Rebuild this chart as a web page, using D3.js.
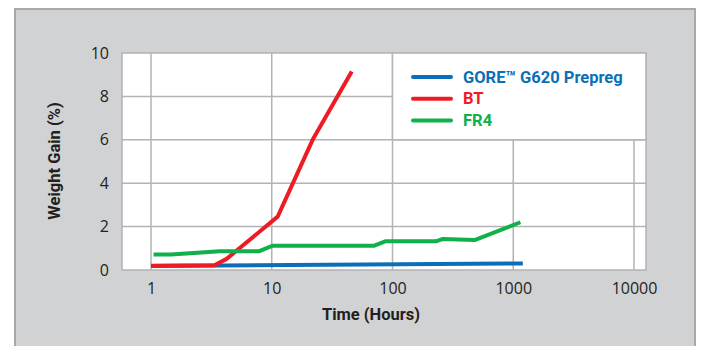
<!DOCTYPE html>
<html>
<head>
<meta charset="utf-8">
<script src="https://cdn.jsdelivr.net/npm/d3@7"></script>
<style>
  body { margin: 0; background: #fff; }
  svg { display: block; font-family: Roboto, "Open Sans", sans-serif; }
</style>
</head>
<body>
<svg id="chart" width="701" height="346"></svg>
<script>
// DATA
const xTicks = [1, 10, 100, 1000, 10000];
const yTicks = [0, 2, 4, 6, 8, 10];

const goreHours = [1, 1200];
const goreGain = [0.18, 0.3];

const btHours = [1, 3.35, 4.2, 5.4, 11.2, 21.8, 46];
const btGain = [0.2, 0.22, 0.5, 1.0, 2.46, 6.0, 9.15];

const fr4Hours = [1.05, 1.46, 3.7, 7.8, 10.2, 70.8, 87, 229, 261, 478, 1146];
const fr4Gain = [0.71, 0.71, 0.86, 0.86, 1.12, 1.12, 1.32, 1.32, 1.43, 1.38, 2.2];

const seriesNames = ['GORE\u2122 G620 Prepreg', 'BT', 'FR4'];
const seriesColors = ['#0a6fb8', '#ed1c24', '#10b04a'];

const series = [
  { name: seriesNames[0], color: seriesColors[0], values: goreHours.map((h, i) => ({ h, g: goreGain[i] })) },
  { name: seriesNames[1], color: seriesColors[1], values: btHours.map((h, i) => ({ h, g: btGain[i] })) },
  { name: seriesNames[2], color: seriesColors[2], values: fr4Hours.map((h, i) => ({ h, g: fr4Gain[i] })) }
];

//SETUP
const svg = d3.select('#chart');
const plot = { left: 122, right: 646, top: 53, bottom: 270 };

const x = d3.scaleLog().domain([1, 10000]).range([151, 634]);
const y = d3.scaleLinear().domain([0, 10]).range([plot.bottom, plot.top]);

// grey panel
svg.append('rect')
  .attr('x', 15).attr('y', 9)
  .attr('width', 680).attr('height', 345)
  .attr('fill', '#d1d2d4')
  .attr('stroke', '#a8a9ac')
  .attr('stroke-width', 2);

// plot area
svg.append('rect')
  .attr('x', plot.left).attr('y', plot.top)
  .attr('width', plot.right - plot.left).attr('height', plot.bottom - plot.top)
  .attr('fill', '#fff')
  .attr('stroke', '#b3b3b6')
  .attr('stroke-width', 1.5);

//GRID
const grid = svg.append('g').attr('stroke', '#b3b3b6').attr('stroke-width', 1.5);
grid.selectAll('.vgrid')
  .data(xTicks)
  .enter()
  .append('line')
  .attr('x1', (d) => x(d)).attr('x2', (d) => x(d))
  .attr('y1', plot.top).attr('y2', plot.bottom);
grid.selectAll('.hgrid')
  .data(yTicks.filter((d) => d > 0 && d < 10))
  .enter()
  .append('line')
  .attr('x1', plot.left).attr('x2', plot.right)
  .attr('y1', (d) => y(d)).attr('y2', (d) => y(d));

//AXES
const xAxis = svg.append('g')
  .attr('transform', `translate(0,${plot.bottom})`)
  .call(d3.axisBottom(x).tickValues(xTicks).tickFormat(d3.format('d')).tickSize(0).tickPadding(13));
const yAxis = svg.append('g')
  .attr('transform', `translate(${plot.left},0)`)
  .call(d3.axisLeft(y).tickValues(yTicks).tickSize(0).tickPadding(13));
[xAxis, yAxis].forEach((a) => {
  a.select('.domain').remove();
  a.selectAll('text').attr('font-size', '16px').attr('fill', '#231f20')
    .attr('font-family', '"Open Sans", sans-serif');
});

svg.append('text')
  .attr('x', 371).attr('y', 320)
  .attr('text-anchor', 'middle')
  .attr('font-size', '16.5px').attr('font-weight', 'bold')
  .attr('fill', '#231f20')
  .text('Time (Hours)');

svg.append('text')
  .attr('transform', 'translate(60,161) rotate(-90)')
  .attr('text-anchor', 'middle')
  .attr('font-size', '16.5px').attr('font-weight', 'bold')
  .attr('fill', '#231f20')
  .text('Weight Gain (%)');

//LINES
const line = d3.line().x((d) => x(d.h)).y((d) => y(d.g));
svg.append('g').selectAll('.line')
  .data(series)
  .enter()
  .append('path')
  .attr('fill', 'none')
  .attr('stroke', (d) => d.color)
  .attr('stroke-width', 4)
  .attr('stroke-linejoin', 'round')
  .attr('d', (d) => line(d.values));

//LEGEND
svg.append('rect')
  .attr('x', x(100)).attr('y', plot.top)
  .attr('width', plot.right - x(100)).attr('height', y(6) - plot.top)
  .attr('fill', '#fff')
  .attr('stroke', '#b3b3b6')
  .attr('stroke-width', 1.5);

const legend = svg.append('g').selectAll('.legend')
  .data(series)
  .enter()
  .append('g')
  .attr('transform', (d, i) => `translate(413,${77 + i * 21.7})`);
legend.append('line')
  .attr('x1', 0).attr('x2', 38)
  .attr('stroke', (d) => d.color)
  .attr('stroke-width', 4)
  .attr('stroke-linecap', 'round');
legend.append('text')
  .attr('x', 50).attr('dy', '0.35em')
  .attr('font-size', '16.5px').attr('font-weight', 'bold')
  .attr('fill', (d) => d.color)
  .text((d) => d.name);
</script>
</body>
</html>
